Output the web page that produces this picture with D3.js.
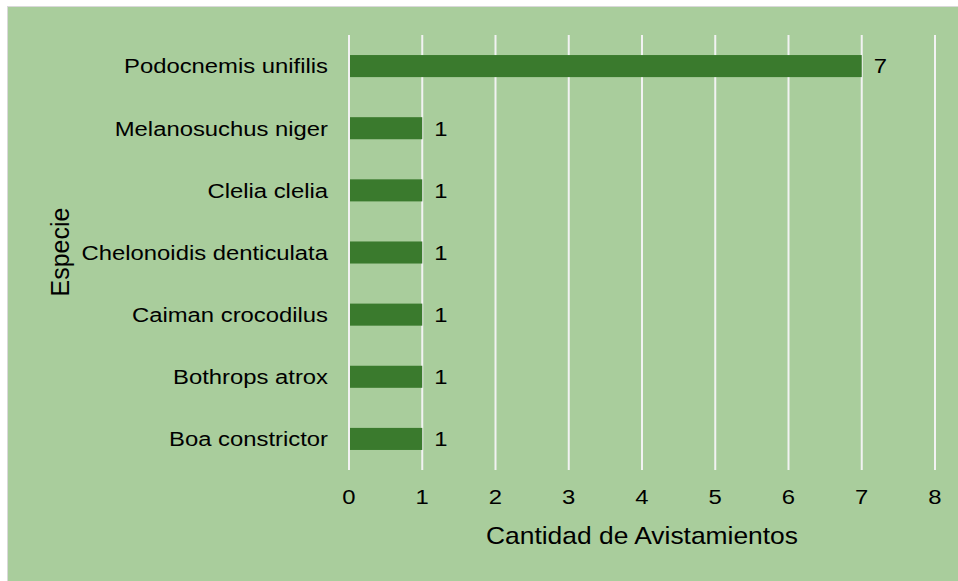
<!DOCTYPE html>
<html><head><meta charset="utf-8">
<script src="https://cdn.jsdelivr.net/npm/d3@7"></script>
<style>body{margin:0;background:#fff}svg{display:block}text{font-family:"Liberation Sans",Arial,sans-serif}</style>
</head><body>
<svg id="c" width="958" height="581"></svg>
<script>
const categories = ["Podocnemis unifilis","Melanosuchus niger","Clelia clelia","Chelonoidis denticulata","Caiman crocodilus","Bothrops atrox","Boa constrictor"];
const values = [7,1,1,1,1,1,1];
const xTicks = [0,1,2,3,4,5,6,7,8];
const xTitle = "Cantidad de Avistamientos";
const yTitle = "Especie";

const SX = 1.135;
const svg = d3.select("#c");
svg.append("rect").attr("x",7.5).attr("y",6.5).attr("width",958).attr("height",581)
  .attr("fill","#a9cd9c").attr("stroke","#d9d9d9").attr("stroke-width",1);

const x = d3.scaleLinear().domain([0,8]).range([349,935]);
const y = d3.scaleBand().domain(categories).range([35,470]).paddingInner(0.645).paddingOuter(0.3225);

svg.append("g").selectAll("line").data(xTicks).join("line")
  .attr("x1",d=>x(d)).attr("x2",d=>x(d)).attr("y1",35).attr("y2",470)
  .attr("stroke","#f2f2f2").attr("stroke-width",2);

svg.append("g").selectAll("rect").data(categories).join("rect")
  .attr("x",x(0)+1).attr("y",d=>y(d)).attr("height",y.bandwidth())
  .attr("width",(d,i)=>x(values[i])-x(0)-1).attr("fill","#3a7a2d");

svg.append("g").selectAll("text").data(categories).join("text")
  .attr("transform",(d,i)=>`translate(${x(values[i])+12},${y(d)+y.bandwidth()/2}) scale(${SX},1)`)
  .attr("dy","0.35em").attr("font-size",21).attr("fill","#000").text((d,i)=>values[i]);

svg.append("g").selectAll("text").data(categories).join("text")
  .attr("transform",d=>`translate(328,${y(d)+y.bandwidth()/2}) scale(${SX},1)`).attr("dy","0.35em")
  .attr("text-anchor","end").attr("font-size",21).attr("fill","#000").text(d=>d);

svg.append("g").selectAll("text").data(xTicks).join("text")
  .attr("transform",d=>`translate(${x(d)},497) scale(${SX},1)`).attr("dy","0.35em").attr("text-anchor","middle")
  .attr("font-size",21).attr("fill","#000").text(d=>d);

svg.append("text").attr("transform",`translate(${x(4)},536) scale(1.1,1)`).attr("dy","0.35em").attr("text-anchor","middle")
  .attr("font-size",24).attr("fill","#000").text(xTitle);

svg.append("text").attr("transform","translate(60,252) rotate(-90)").attr("dy","0.35em")
  .attr("text-anchor","middle").attr("font-size",25).attr("fill","#000").text(yTitle);
</script>
</body></html>
